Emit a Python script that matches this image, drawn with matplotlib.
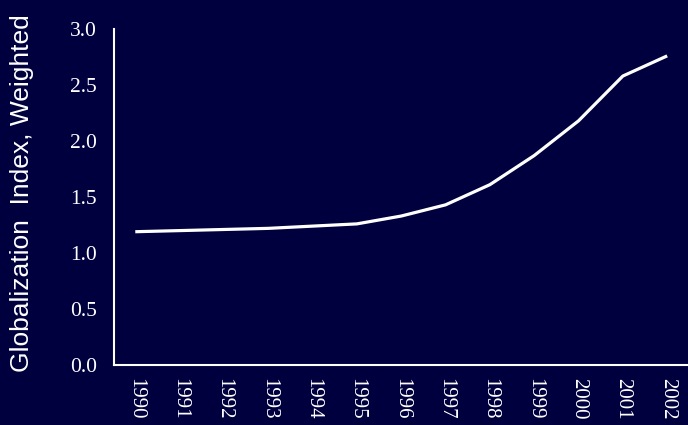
import matplotlib
matplotlib.use("Agg")
import matplotlib.pyplot as plt

years = [1990, 1991, 1992, 1993, 1994, 1995, 1996, 1997, 1998, 1999, 2000, 2001, 2002]
index_weighted = [1.19, 1.20, 1.21, 1.22, 1.24, 1.26, 1.33, 1.43, 1.61, 1.87, 2.18, 2.58, 2.76]
y_ticks = [0.0, 0.5, 1.0, 1.5, 2.0, 2.5, 3.0]

bg = "#00003f"
fg = "white"

fig = plt.figure(figsize=(6.88, 4.25), dpi=100, facecolor=bg)
ax = fig.add_axes([114 / 688, 1 - 365 / 425, 1 - 114 / 688, (365 - 29) / 425])
ax.set_facecolor(bg)

ax.plot(years, index_weighted, color=fg, linewidth=2.3, solid_capstyle="butt")

ax.set_xlim(1989.52, 2002.47)
ax.set_ylim(0, 3.0)
ax.set_xticks(years)
ax.set_xticklabels([str(y) for y in years], rotation=270,
                   family="Liberation Serif", fontsize=15, color=fg)
ax.set_yticks(y_ticks)
ax.set_yticklabels([f"{v:.1f}" for v in y_ticks],
                   family="Liberation Serif", fontsize=15.5, color=fg)
ax.tick_params(axis="y", length=0, pad=12.5)
ax.tick_params(axis="x", length=0, pad=9)

for side in ("top", "right"):
    ax.spines[side].set_visible(False)
for side in ("left", "bottom"):
    ax.spines[side].set_color(fg)
    ax.spines[side].set_linewidth(1.5)

fig.text(22 / 688, 1 - 193 / 425, "Globalization  Index, Weighted",
         rotation=90, ha="center", va="center", color=fg,
         family="Liberation Sans", fontsize=19)

fig.savefig("out.png", dpi=100, facecolor=bg)
